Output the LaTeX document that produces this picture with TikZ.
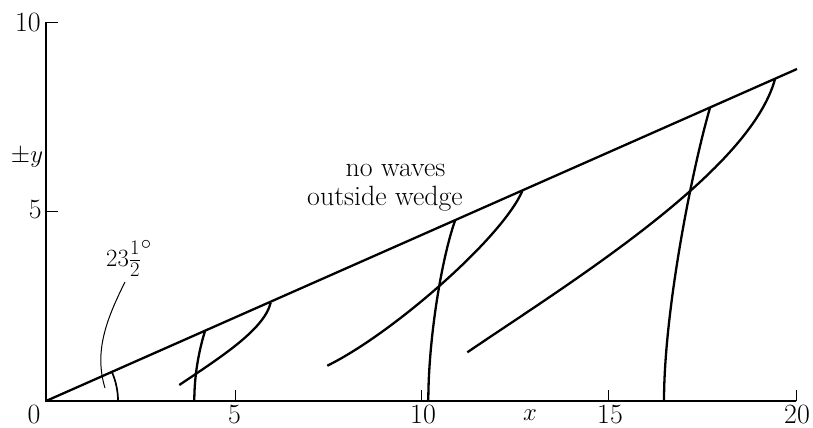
\documentclass[tikz,border=0pt]{standalone}
\begin{document}
\begin{tikzpicture}[x=1bp,y=-1bp,
  wave/.style={line width=2.3bp},
  axisline/.style={line width=1.4bp},
  tickline/.style={line width=1bp},
  pointer/.style={line width=1bp},
  lbl/.style={inner sep=0pt, font=\fontsize{28}{32}\selectfont}]
\useasboundingbox (0,0) rectangle (813,427);
% axes
\coordinate (O) at (46,401);
\coordinate (Ytop) at (46,22);
\coordinate (Xend) at (796,401);
\draw[axisline] (Ytop) -- (O) -- (Xend);
% y ticks
\coordinate (Yt10) at (58,22);
\coordinate (Y5) at (46,211);
\coordinate (Yt5) at (58,211);
\draw[tickline] (Ytop) -- (Yt10);
\draw[tickline] (Y5) -- (Yt5);
% x ticks
\coordinate (X5) at (235,401);   \coordinate (X5t) at (235,390);
\coordinate (X10) at (421,401);  \coordinate (X10t) at (421,390);
\coordinate (X15) at (608.7,401);\coordinate (X15t) at (608.7,390);
\coordinate (X20t) at (796,390);
\draw[tickline] (X5) -- (X5t);
\draw[tickline] (X10) -- (X10t);
\draw[tickline] (X15) -- (X15t);
\draw[tickline] (Xend) -- (X20t);
% wedge
\coordinate (W) at (797,69);
\draw[wave] (O) -- (W);
% angle arc
\coordinate (A0) at (118,401);
\draw[line width=1.7bp] (A0) arc[start angle=0, end angle=-23.87, radius=72];
% transverse waves
\coordinate (T1a) at (194.3,401); \coordinate (T1b) at (205,331);
\coordinate (T2a) at (428.3,401); \coordinate (T2b) at (455,220.7);
\coordinate (T3a) at (664,401);   \coordinate (T3b) at (710,107.7);
\draw[wave] (T1a) .. controls (194.3,376) and (198.5,352) .. (T1b);
\draw[wave] (T2a) .. controls (428.3,341) and (441,260.7) .. (T2b);
\draw[wave] (T3a) .. controls (664,311) and (692,169.7) .. (T3b);
% divergent waves
\coordinate (D1a) at (179.3,385); \coordinate (D1b) at (270.7,302.7);
\coordinate (D2a) at (327.3,365.7); \coordinate (D2b) at (522.3,191);
\coordinate (D3a) at (467.3,352.3); \coordinate (D3b) at (775,79);
\draw[wave] (D1a) .. controls (219.3,358) and (264,330) .. (D1b);
\draw[wave] (D2a) .. controls (392,334) and (502,238) .. (D2b);
\draw[wave] (D3a) .. controls (567.3,284.3) and (750,172) .. (D3b);
% labels
\node[lbl, anchor=east] (l10) at (41,22) {10};
\node[lbl, anchor=east] (l5) at (42,210) {5};
\node[lbl, anchor=base] (ly) at (27,162) {$\pm y$};
\node[lbl, anchor=base] (lx0) at (34,423) {0};
\node[lbl, anchor=base] (lx5) at (234.5,423) {5};
\node[lbl, anchor=base] (lx10) at (423,423) {10};
\node[lbl, anchor=base] (lx15) at (610,423) {15};
\node[lbl, anchor=base] (lx20) at (797,423) {20};
\node[lbl, anchor=base] (lx) at (530,420) {$x$};
\node[lbl, anchor=base west] (lang) at (106,266)
  {$23\frac{\raisebox{1.8pt}{$\scriptstyle 1$}}{\raisebox{-1.8pt}{$\scriptstyle 2$}}^{\circ}$};
\coordinate (P0) at (105,388);
\coordinate (P1) at (125,282);
\draw[pointer] (P0) .. controls (94,352) and (106,320) .. (P1);
\node[lbl, anchor=base] (nw1) at (395.5,176) {no waves};
\node[lbl, anchor=base] (nw2) at (385,205) {outside wedge};
\end{tikzpicture}
\end{document}
